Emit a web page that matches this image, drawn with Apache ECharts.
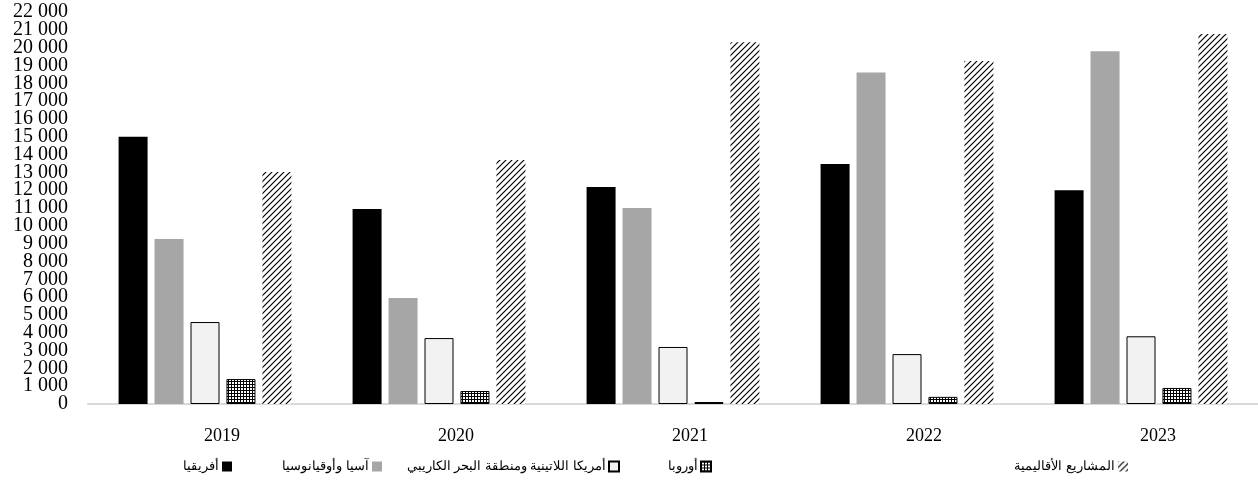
<!DOCTYPE html>
<html>
<head>
<meta charset="utf-8">
<script src="https://cdn.jsdelivr.net/npm/echarts@6/dist/echarts.min.js"></script>
<style>
  html, body { margin: 0; padding: 0; background: #fff; }
  #chart { width: 1258px; height: 490px; }
</style>
</head>
<body>
<div id="chart"></div>
<script>
const years = ['2019', '2020', '2021', '2022', '2023']
const seriesNames = ['أفريقيا', 'آسيا وأوقيانوسيا', 'أمريكا اللاتينية ومنطقة البحر الكاريبي', 'أوروبا', 'المشاريع الأقاليمية']
const africa = [15000, 10950, 12180, 13470, 12000]
const asia = [9260, 5950, 11000, 18600, 19800]
const latam = [4600, 3700, 3200, 2800, 3800]
const europe = [1400, 730, 110, 400, 900]
const regional = [13020, 13700, 20300, 19250, 20760]

// pattern fills like the excel ones
function dotPattern() {
    const c = document.createElement('canvas')
    c.width = 3; c.height = 3
    const ctx = c.getContext('2d')
    ctx.fillStyle = '#000'
    ctx.fillRect(0, 0, 3, 3)
    ctx.fillStyle = '#fff'
    ctx.fillRect(1, 1, 2, 2)
    return c
}
function hatchPattern() {
    const c = document.createElement('canvas')
    c.width = 6; c.height = 6
    const ctx = c.getContext('2d')
    ctx.fillStyle = '#fff'
    ctx.fillRect(0, 0, 6, 6)
    ctx.strokeStyle = '#000'
    ctx.lineWidth = 1.2
    ctx.beginPath()
    ctx.moveTo(-1, 7); ctx.lineTo(7, -1)
    ctx.moveTo(-4, 4); ctx.lineTo(4, -4)
    ctx.moveTo(2, 10); ctx.lineTo(10, 2)
    ctx.stroke()
    return c
}

const styles = [
    { color: '#000000' },
    { color: '#a6a6a6' },
    { color: '#f2f2f2', borderColor: '#000', borderWidth: 1 },
    { color: { image: dotPattern(), repeat: 'repeat' }, borderColor: '#000', borderWidth: 1 },
    { color: { image: hatchPattern(), repeat: 'repeat' } }
]
const values = [africa, asia, latam, europe, regional]
// right edge of each legend entry (icon sits right of the text)
const legendRight = [232, 382, 620, 712, 1128]

const chart = echarts.init(document.getElementById('chart'))
const fmt = v => String(v).replace(/\B(?=(\d{3})+(?!\d))/g, ' ')

// labels are packed tight, so even and odd thousands go on two stacked axes
// (otherwise echarts drops the ones next to 0 / 22 000)
function valueAxis(odd) {
    return {
        type: 'value',
        position: 'left',
        min: 0,
        max: 22000,
        interval: 1000,
        axisLine: { show: false },
        axisTick: { show: false },
        splitLine: { show: false },
        axisLabel: {
            color: '#000', fontFamily: 'Liberation Serif', fontSize: 20,
            margin: 20, showMinLabel: true, showMaxLabel: true,
            formatter: v => ((v / 1000) % 2 === 1) === odd ? fmt(v) : ''
        }
    }
}

chart.setOption({
    animation: false,
    backgroundColor: '#fff',
    grid: { left: 88, right: 0, top: 12, bottom: 86 },
    legend: seriesNames.map((name, i) => ({
        top: 460,
        right: 1258 - legendRight[i],
        align: 'right',
        icon: 'rect',
        itemWidth: 10,
        itemHeight: 10,
        itemGap: 0,
        padding: 0,
        textStyle: { fontFamily: 'Liberation Sans', fontSize: 13, color: '#000', padding: [0, -2, 0, 0] },
        data: [name]
    })),
    xAxis: {
        type: 'category',
        data: years,
        axisLine: { lineStyle: { color: '#d9d9d9', width: 2 } },
        axisTick: { show: false },
        axisLabel: { color: '#000', fontFamily: 'Liberation Serif', fontSize: 18, margin: 23, padding: [0, 0, 0, 34] }
    },
    yAxis: [valueAxis(false), valueAxis(true)],
    series: seriesNames.map((name, i) => ({
        name: name,
        type: 'bar',
        barWidth: 29,
        barGap: '24%',
        itemStyle: styles[i],
        data: values[i]
    }))
})
</script>
</body>
</html>
